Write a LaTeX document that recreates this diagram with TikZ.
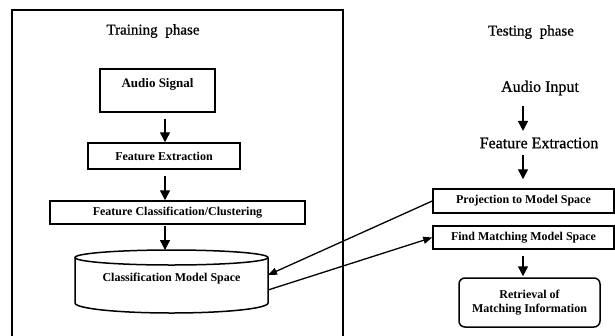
\documentclass[tikz,border=0pt]{standalone}
\usepackage{fontspec}
\setmainfont{Liberation Serif}
\newfontfamily\plainheavy{Liberation Serif}[FakeBold=0.7]
\usetikzlibrary{arrows.meta}

\begin{document}
\begin{tikzpicture}[x=1pt,y=-1pt,
  box/.style={draw, line width=1.5pt, inner sep=0pt,
    font=\bfseries\fontsize{12}{14}\selectfont},
  boldtext/.style={inner sep=0pt, font=\bfseries\fontsize{12}{14}\selectfont},
  arr/.style={line width=1.4pt, -{Triangle[length=10pt,width=10pt]}},
  xarr/.style={line width=1.3pt, -{Triangle[length=9pt,width=7pt]}},
  head/.style={font=\plainheavy\fontsize{15}{18}\selectfont, inner sep=0pt},
  lbl/.style={font=\plainheavy\fontsize{16}{19}\selectfont, inner sep=0pt},
  cyl/.style={line width=1.5pt}]
\useasboundingbox (0,0) rectangle (615,335);

% frame around the training phase, open at the bottom
\draw[line width=1.9pt] (12,345) -- (12,10) -- (343,10) -- (343,345);

% ---- training phase ----
\node[head] (train) at (153,31) {Training\hspace{4pt} phase};
\node[box, minimum width=115pt, text height=18.5pt, text depth=24.5pt,
      font=\bfseries\fontsize{13}{15}\selectfont] (sig) at (157.5,90.5) {Audio Signal};
\node[box, minimum width=152pt, minimum height=26pt] (fe) at (164,156) {Feature Extraction};
\node[box, minimum width=255pt, minimum height=23pt] (fcc) at (177.5,212.5)
  {Feature Classification/Clustering};

% model store drawn as a cylinder
\draw[cyl] (171.5,257.5) ellipse [x radius=96.5pt, y radius=7.5pt];
\draw[cyl] (75,257.5) -- (75,303)
  arc[start angle=180, end angle=360, x radius=96.5pt, y radius=10pt] -- (268,257.5);
\coordinate (cylTop) at (171.5,250);
\coordinate (cylA) at (268,275);
\coordinate (cylB) at (268,290);
\node[boldtext] (cms) at (171.5,279) {Classification Model Space};

% ---- testing phase ----
\node[head] (test) at (531,32) {Testing\hspace{4pt} phase};
\node[lbl] (ai) at (540,88) {Audio Input};
\node[lbl] (fe2) at (539,143) {Feature Extraction};
\node[box, minimum width=181pt, minimum height=24pt] (proj) at (523.5,201)
  {Projection to Model Space};
\node[box, minimum width=181pt, minimum height=23pt] (fmm) at (523.5,237.5)
  {Find Matching Model Space};
\node[box, rounded corners=6pt, minimum width=141pt, minimum height=49pt,
      align=center] (ret) at (529.5,302.5) {Retrieval of\\Matching Information};

% ---- connectors ----
\coordinate (colL) at (165,0);
\coordinate (colR) at (523,0);
\draw[arr, shorten <=6pt] (sig.south -| colL) -- (fe.north -| colL);
\draw[arr, shorten <=6pt] (fe.south -| colL) -- (fcc.north -| colL);
\draw[arr, shorten <=1pt] (fcc.south -| colL) -- (cylTop -| colL);

\draw[arr, shorten <=10.5pt, shorten >=6.5pt] (ai.south -| colR) -- (fe2.north -| colR);
\draw[arr, shorten <=6.5pt, shorten >=9pt] (fe2.south -| colR) -- (proj.north -| colR);
\draw[arr, shorten <=6pt, shorten >=1pt] (fmm.south -| colR) -- (ret.north -| colR);

\draw[xarr] (proj.west) -- (cylA);
\draw[xarr] (cylB) -- (fmm.west);
\end{tikzpicture}
\end{document}
